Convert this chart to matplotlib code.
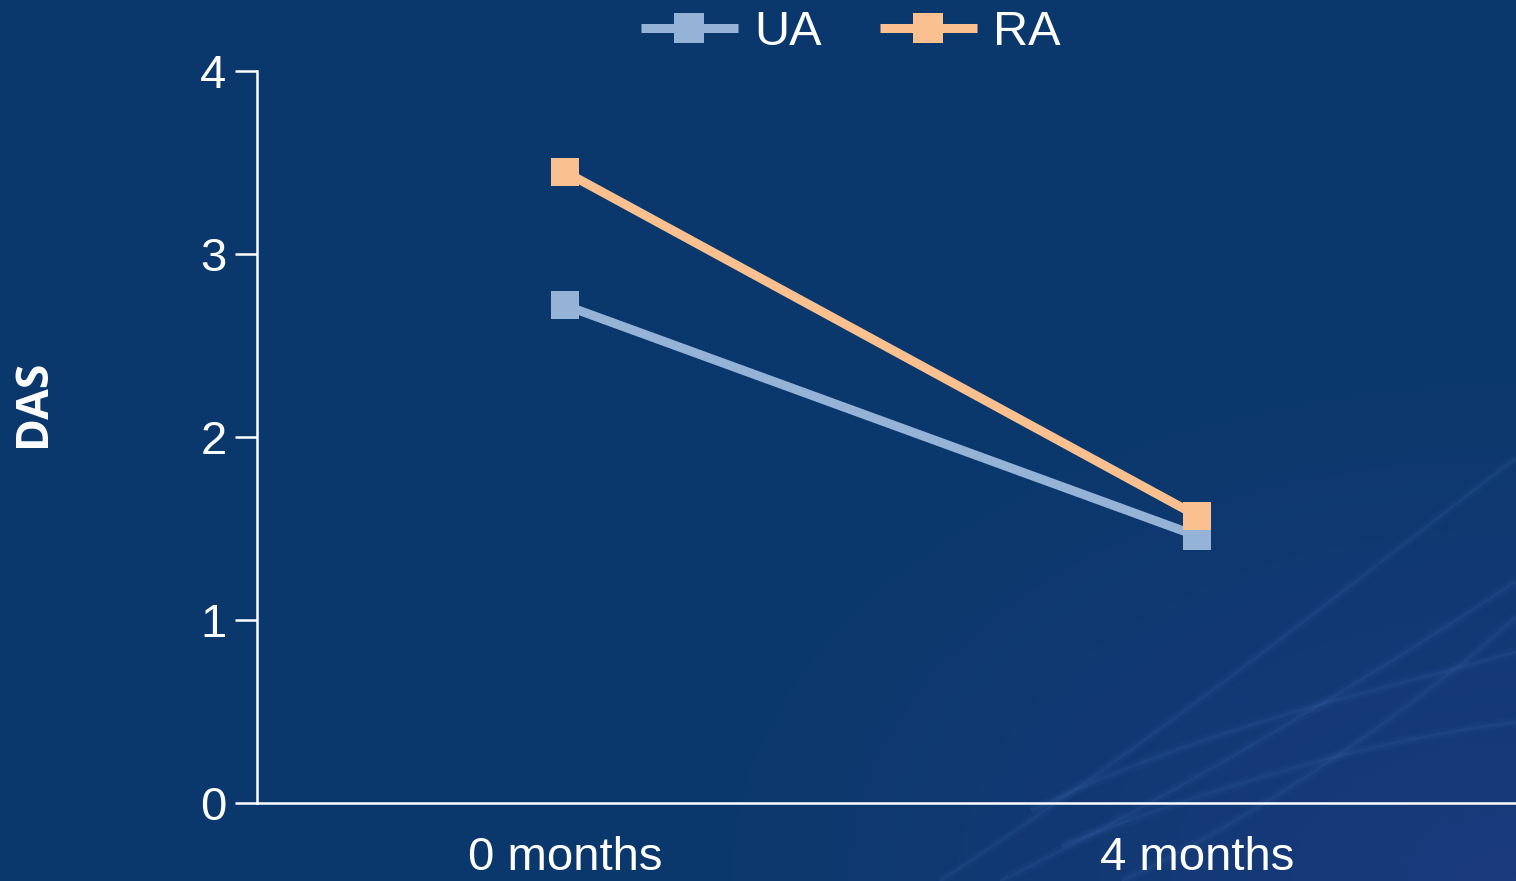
import numpy as np
import matplotlib.pyplot as plt
from matplotlib.path import Path
from matplotlib.patches import PathPatch

# valeurs DAS par groupe
periodes = ['0 months', '4 months']
ua = [2.72, 1.46]
ra = [3.45, 1.57]

c_fond = '#0b386c'
c_ua = '#95b3d7'
c_ra = '#fac090'

fig = plt.figure(figsize=(15.16, 8.81), dpi=100)
fig.patch.set_facecolor(c_fond)

# fond : degrade leger vers le coin bas droit + quelques trainees claires
bg = fig.add_axes([0, 0, 1, 1], zorder=-10)
bg.set_xlim(0, 1)
bg.set_ylim(0, 1)
bg.axis('off')
xx, yy = np.meshgrid(np.linspace(0, 1, 400), np.linspace(0, 1, 240))
d = np.clip(1.0 - np.hypot((xx - 1.0) / 0.55, (yy - 0.0) / 0.6), 0, 1)
base = np.array([11, 56, 108]) / 255.0
coin = np.array([26, 58, 125]) / 255.0
img = base[None, None, :] * (1 - d[..., None]) + coin[None, None, :] * d[..., None]
bg.imshow(img, extent=[0, 1, 0, 1], origin='lower', aspect='auto')

trainees = [
    [(0.62, 0.0), (0.78, 0.18), (0.90, 0.35), (1.0, 0.48)],
    [(0.66, 0.0), (0.80, 0.12), (0.92, 0.25), (1.0, 0.34)],
    [(0.68, 0.08), (0.80, 0.18), (0.92, 0.22), (1.0, 0.26)],
    [(0.70, 0.04), (0.85, 0.14), (0.95, 0.17), (1.0, 0.18)],
    [(0.74, 0.0), (0.84, 0.08), (0.95, 0.22), (1.0, 0.30)],
]
for pts in trainees:
    p = Path(pts, [Path.MOVETO, Path.CURVE4, Path.CURVE4, Path.CURVE4])
    for lw, a in [(8, 0.03), (4, 0.04), (1.5, 0.06)]:
        bg.add_patch(PathPatch(p, fill=False, edgecolor='#6a9be0', lw=lw, alpha=a))

ax = fig.add_axes([257 / 1516, 1 - 803 / 881, 1 - 257 / 1516, (803 - 71) / 881])
ax.set_facecolor('none')

x = np.arange(len(periodes))
ax.plot(x, ua, color=c_ua, lw=6.5, marker='s', markersize=20,
        markeredgewidth=0, label='UA', solid_capstyle='butt')
ax.plot(x, ra, color=c_ra, lw=6.5, marker='s', markersize=20,
        markeredgewidth=0, label='RA', solid_capstyle='butt')

ax.set_xlim(-0.487, 1.505)
ax.set_ylim(0, 4)
ax.set_yticks([0, 1, 2, 3, 4])
ax.set_xticks(x)
ax.set_xticklabels(periodes)

for s in ['top', 'right']:
    ax.spines[s].set_visible(False)
for s in ['left', 'bottom']:
    ax.spines[s].set_color('white')
    ax.spines[s].set_linewidth(1.8)

ax.tick_params(axis='y', colors='white', length=16, width=1.8, pad=6,
               labelsize=34, labelfontfamily='Liberation Sans')
ax.tick_params(axis='x', colors='white', length=0, pad=24,
               labelsize=34, labelfontfamily='Liberation Sans')

fig.text(0.022, 0.542, 'DAS', rotation=90, color='white', fontsize=32,
         fontweight='bold', family='Open Sans', ha='center', va='center')

leg = fig.legend(loc='center', bbox_to_anchor=(0.561, 0.963), ncol=2,
                 frameon=False, labelcolor='white', markerscale=1.1,
                 handlelength=2.0, columnspacing=1.2, handletextpad=0.33,
                 prop={'family': 'Liberation Sans', 'size': 35})

fig.savefig('out.png', dpi=100, facecolor=fig.get_facecolor())
